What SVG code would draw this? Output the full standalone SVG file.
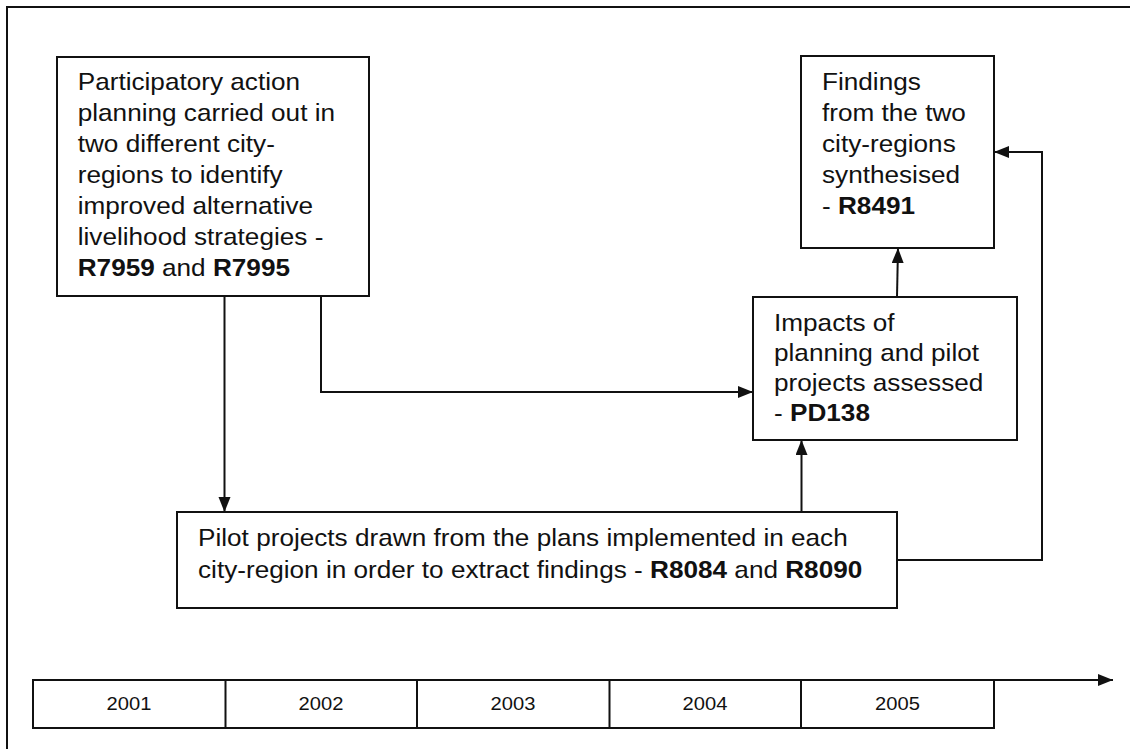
<svg xmlns="http://www.w3.org/2000/svg" width="1130" height="749" viewBox="0 0 1130 749">
<style>
.bg{fill:#ffffff}
.box{fill:#ffffff;stroke:#111111;stroke-width:2}
.ln{fill:none;stroke:#111111;stroke-width:2}
.t{font-family:"Liberation Sans",Arial,sans-serif;font-size:24px;fill:#111111}
.y{font-family:"Liberation Sans",Arial,sans-serif;font-size:18.5px;fill:#111111;text-anchor:middle}
.b{font-weight:bold}
</style>
<defs>
<marker id="ah" markerUnits="userSpaceOnUse" markerWidth="16" markerHeight="14" refX="15" refY="6" orient="auto">
<path d="M0,0 L15,6 L0,12 Z" fill="#111111"/>
</marker>
</defs>
<rect class="bg" x="0" y="0" width="1130" height="749"/>
<g id="frame">
<path class="ln" d="M7,749 L7,7 L1130,7"/>
</g>
<g id="connectors">
<path class="ln" d="M224.5,296 L224.5,512" marker-end="url(#ah)"/>
<path class="ln" d="M321,296 L321,392 L753,392" marker-end="url(#ah)"/>
<path class="ln" d="M801.5,512 L801.5,440" marker-end="url(#ah)"/>
<path class="ln" d="M897,297 L898,248" marker-end="url(#ah)"/>
<path class="ln" d="M897,560 L1042,560 L1042,152 L994,152" marker-end="url(#ah)"/>
<path class="ln" d="M33,680 L1113,680" marker-end="url(#ah)"/>
</g>
<g id="node-participatory">
<rect class="box" x="57" y="57" width="312" height="239"/>
<g transform="translate(77.7,0) scale(1.09,1)">
<text class="t" x="0" y="90">Participatory action</text>
<text class="t" x="0" y="121">planning carried out in</text>
<text class="t" x="0" y="152">two different city-</text>
<text class="t" x="0" y="183">regions to identify</text>
<text class="t" x="0" y="214">improved alternative</text>
<text class="t" x="0" y="245">livelihood strategies -</text>
<text class="t" x="0" y="276"><tspan class="b">R7959</tspan> and <tspan class="b">R7995</tspan></text>
</g>
</g>
<g id="node-findings">
<rect class="box" x="801" y="56" width="193" height="192"/>
<g transform="translate(822,0) scale(1.09,1)">
<text class="t" x="0" y="90">Findings</text>
<text class="t" x="0" y="121">from the two</text>
<text class="t" x="0" y="152">city-regions</text>
<text class="t" x="0" y="183">synthesised</text>
<text class="t" x="0" y="214">- <tspan class="b">R8491</tspan></text>
</g>
</g>
<g id="node-impacts">
<rect class="box" x="753" y="297" width="264" height="143"/>
<g transform="translate(774,0) scale(1.09,1)">
<text class="t" x="0" y="331.5">Impacts of</text>
<text class="t" x="0" y="361.5">planning and pilot</text>
<text class="t" x="0" y="391.5">projects assessed</text>
<text class="t" x="0" y="421">- <tspan class="b">PD138</tspan></text>
</g>
</g>
<g id="node-pilot">
<rect class="box" x="177" y="512" width="720" height="96"/>
<g transform="translate(198,0) scale(1.09,1)">
<text class="t" x="0" y="546.5">Pilot projects drawn from the plans implemented in each</text>
<text class="t" x="0" y="578">city-region in order to extract findings - <tspan class="b">R8084</tspan> and <tspan class="b">R8090</tspan></text>
</g>
</g>
<g id="timeline">
<rect class="box" x="33" y="680" width="961" height="48"/>
<path class="ln" d="M225.5,680 V728 M417,680 V728 M609.5,680 V728 M801,680 V728"/>
<g transform="translate(129,0) scale(1.09,1)"><text class="y" x="0" y="710.5">2001</text></g>
<g transform="translate(321,0) scale(1.09,1)"><text class="y" x="0" y="710.5">2002</text></g>
<g transform="translate(513,0) scale(1.09,1)"><text class="y" x="0" y="710.5">2003</text></g>
<g transform="translate(705,0) scale(1.09,1)"><text class="y" x="0" y="710.5">2004</text></g>
<g transform="translate(897.5,0) scale(1.09,1)"><text class="y" x="0" y="710.5">2005</text></g>
</g>
</svg>
